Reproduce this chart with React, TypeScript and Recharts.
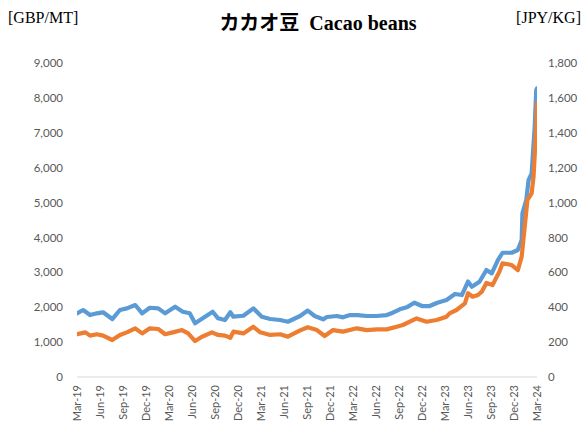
import React from 'react';
import { LineChart, Line, XAxis, YAxis } from 'recharts';

const tickLabels = [
  'Mar-19', 'Jun-19', 'Sep-19', 'Dec-19', 'Mar-20', 'Jun-20', 'Sep-20', 'Dec-20',
  'Mar-21', 'Jun-21', 'Sep-21', 'Dec-21', 'Mar-22', 'Jun-22', 'Sep-22', 'Dec-22',
  'Mar-23', 'Jun-23', 'Sep-23', 'Dec-23', 'Mar-24',
];

const leftTicks = [0, 1000, 2000, 3000, 4000, 5000, 6000, 7000, 8000, 9000];
const rightTicks = [0, 200, 400, 600, 800, 1000, 1200, 1400, 1600, 1800];

// months since Mar-19
const gbpMonths = [
  0, 0.8, 1.7, 2.6, 3.4, 4.6, 5.6, 6.5, 7.6, 8.5, 9.5, 10.6, 11.5, 12.8, 13.8, 14.7,
  15.4, 16.4, 17.7, 18.4, 19.3, 20.0, 20.4, 21.7, 23.0, 24.1, 25.2, 26.5, 27.5, 29.1,
  30.1, 31.0, 32.1, 32.6, 33.9, 34.7, 35.6, 36.6, 37.8, 39.1, 40.4, 41.2, 42.1, 43.0,
  44.0, 45.0, 46.0, 47.0, 48.2, 49.3, 50.2, 51.0, 51.5, 52.5, 53.4, 54.1, 54.9, 55.5,
  56.7, 57.5, 58.0, 58.1, 58.6, 58.9, 59.3, 59.7, 59.9, 60,
];
const gbpValues = [
  1825, 1920, 1776, 1825, 1854, 1662, 1920, 1968, 2063, 1825, 1985, 1968, 1825, 2014, 1871, 1825,
  1538, 1682, 1871, 1682, 1633, 1854, 1728, 1756, 1968, 1728, 1662, 1633, 1584, 1748,
  1905, 1748, 1653, 1719, 1748, 1710, 1776, 1776, 1748, 1748, 1776, 1842, 1940, 1997,
  2129, 2034, 2034, 2129, 2206, 2378, 2349, 2736, 2587, 2730, 3066, 2971, 3352, 3561,
  3561, 3639, 3925, 4690, 5071, 5644, 5836, 7171, 8223, 8271,
];

const jpyMonths = [
  0, 1.1, 1.7, 2.6, 3.4, 4.6, 5.6, 6.5, 7.6, 8.5, 9.5, 10.6, 11.5, 12.5, 13.7, 14.5,
  15.4, 16.3, 17.6, 18.4, 19.3, 20.0, 20.4, 21.7, 23.0, 23.9, 25.2, 26.5, 27.5, 29.1,
  30.1, 31.3, 32.3, 33.4, 34.7, 36.5, 37.8, 39.1, 40.4, 41.7, 42.5, 44.3, 45.6, 46.9,
  48.2, 48.6, 49.5, 50.6, 51.0, 51.6, 52.3, 52.8, 53.4, 54.2, 55.1, 55.5, 56.7, 57.5,
  58.0, 58.4, 58.75, 59.3, 59.55, 59.9, 60,
];
const jpyValues = [
  245, 256, 237, 245, 237, 212, 241, 256, 279, 250, 279, 275, 245, 256, 269, 250,
  206, 231, 256, 241, 237, 225, 260, 250, 288, 256, 241, 245, 231, 267,
  285, 269, 235, 269, 260, 279, 269, 273, 273, 288, 298, 336, 317, 327,
  346, 365, 384, 422, 480, 460, 470, 489, 539, 527, 604, 652, 642, 613,
  690, 862, 1015, 1053, 1148, 1435, 1569,
];

const gbpData = gbpMonths.map((m, i) => ({ m, gbp: gbpValues[i] }));
const jpyData = jpyMonths.map((m, i) => ({ m, jpy: jpyValues[i] }));
const xTicks = tickLabels.map((_, i) => i * 3);

const tickFont = 'Lato, "Open Sans", sans-serif';
const fmt = (v: number) => v.toLocaleString('en-US');

const XTick = (props: any) => {
  const { x, y, payload } = props;
  return (
    <text
      x={x}
      y={y}
      transform={`rotate(-90, ${x}, ${y})`}
      textAnchor="end"
      dy="0.35em"
      fill="#595959"
      fontSize={11}
      fontFamily={tickFont}
    >
      {tickLabels[Math.round(payload.value / 3)]}
    </text>
  );
};

export default function App() {
  return (
    <div style={{ position: 'absolute', left: 0, top: 0, width: 586, height: 427, background: '#fff' }}>
      <LineChart
        width={586}
        height={427}
        margin={{ top: 63, right: 0, bottom: 0, left: 0 }}
      >
        <XAxis
          dataKey="m"
          type="number"
          domain={[0, 60]}
          ticks={xTicks}
          interval={0}
          tick={<XTick />}
          tickLine={false}
          tickSize={0}
          tickMargin={8}
          axisLine={{ stroke: '#d9d9d9', strokeWidth: 1 }}
          height={50}
          allowDataOverflow
        />
        <YAxis
          yAxisId="left"
          orientation="left"
          domain={[0, 9000]}
          ticks={leftTicks}
          tickFormatter={fmt}
          axisLine={false}
          tickLine={false}
          tickSize={0}
          tickMargin={14}
          width={77}
          tick={{ fill: '#595959', fontSize: 11.5, fontFamily: tickFont }}
        />
        <YAxis
          yAxisId="right"
          orientation="right"
          domain={[0, 1800]}
          ticks={rightTicks}
          tickFormatter={fmt}
          axisLine={false}
          tickLine={false}
          tickSize={0}
          tickMargin={11}
          width={49}
          tick={{ fill: '#595959', fontSize: 11.5, fontFamily: tickFont, textAnchor: 'start' }}
        />
        <Line
          yAxisId="left"
          data={gbpData}
          dataKey="gbp"
          type="linear"
          stroke="#5B9BD5"
          strokeWidth={4.2}
          strokeLinejoin="round"
          strokeLinecap="round"
          dot={false}
          isAnimationActive={false}
        />
        <Line
          yAxisId="right"
          data={jpyData}
          dataKey="jpy"
          type="linear"
          stroke="#ED7D31"
          strokeWidth={4.2}
          strokeLinejoin="round"
          strokeLinecap="round"
          dot={false}
          isAnimationActive={false}
        />
      </LineChart>
      <div
        style={{
          position: 'absolute', left: 8, top: 9, fontSize: 16,
          fontFamily: '"Liberation Serif", "Times New Roman", serif', color: '#000',
        }}
      >
        [GBP/MT]
      </div>
      <div
        style={{
          position: 'absolute', right: 5, top: 9, fontSize: 16,
          fontFamily: '"Liberation Serif", "Times New Roman", serif', color: '#000',
        }}
      >
        [JPY/KG]
      </div>
      <div
        style={{
          position: 'absolute', left: 0, width: 636, top: 7, textAlign: 'center', fontSize: 20,
          fontWeight: 'bold', color: '#000',
          fontFamily: '"Liberation Serif", "Noto Sans CJK JP", serif', whiteSpace: 'pre',
        }}
      >
        {'カカオ豆  Cacao beans'}
      </div>
    </div>
  );
}
